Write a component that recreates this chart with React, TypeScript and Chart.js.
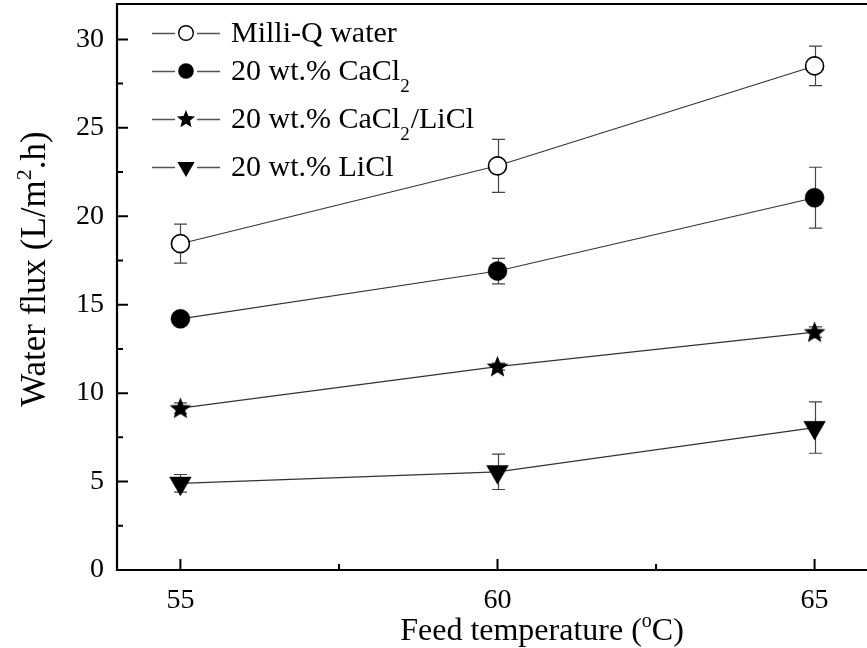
import React, { useEffect, useRef } from 'react';
import { Chart, registerables } from 'chart.js';

Chart.register(...registerables);

// ---- data ----
const temperatures = [55, 60, 65];
const milliQ = [18.45, 22.85, 28.5];
const milliQErr = [1.1, 1.5, 1.12];
const cacl2 = [14.2, 16.9, 21.05];
const cacl2Err = [0.3, 0.72, 1.72];
const mixed = [9.15, 11.5, 13.45];
const mixedErr = [0.3, 0.2, 0.3];
const licl = [4.9, 5.55, 8.05];
const liclErr = [0.5, 1.0, 1.45];

const xMajorTicks = [55, 60, 65];
const yMajorTicks = [0, 5, 10, 15, 20, 25, 30];

// legend labels as [text, kind] parts (kind: 'n' normal, 'sub' subscript)
const legendLabels: [string, string][][] = [
  [['Milli-Q water', 'n']],
  [['20 wt.% CaCl', 'n'], ['2', 'sub']],
  [['20 wt.% CaCl', 'n'], ['2', 'sub'], ['/LiCl', 'n']],
  [['20 wt.% LiCl', 'n']],
];
const markerKinds = ['openCircle', 'filledCircle', 'star', 'triangleDown'];

const FONT = '"Liberation Serif", "Times New Roman", serif';

function starPath(g: CanvasRenderingContext2D, cx: number, cy: number, R: number, r: number) {
  g.beginPath();
  for (let i = 0; i < 10; i++) {
    const a = -Math.PI / 2 + (i * Math.PI) / 5;
    const rad = i % 2 === 0 ? R : r;
    const px = cx + rad * Math.cos(a);
    const py = cy + rad * Math.sin(a);
    if (i === 0) g.moveTo(px, py);
    else g.lineTo(px, py);
  }
  g.closePath();
}

function makeStar(R: number, r: number) {
  const size = Math.ceil(R * 2 + 2);
  const c = document.createElement('canvas');
  c.width = size;
  c.height = size;
  const g = c.getContext('2d')!;
  starPath(g, size / 2, size / 2 + 0.8, R, r);
  g.fillStyle = '#000';
  g.fill();
  return c;
}

function drawLegendMarker(ctx: CanvasRenderingContext2D, kind: string, cx: number, cy: number) {
  ctx.save();
  ctx.lineWidth = 1.4;
  ctx.strokeStyle = '#000';
  ctx.fillStyle = '#000';
  if (kind === 'openCircle') {
    ctx.beginPath();
    ctx.arc(cx, cy, 7.3, 0, Math.PI * 2);
    ctx.fillStyle = '#fff';
    ctx.fill();
    ctx.stroke();
  } else if (kind === 'filledCircle') {
    ctx.beginPath();
    ctx.arc(cx, cy, 7.8, 0, Math.PI * 2);
    ctx.fill();
  } else if (kind === 'star') {
    starPath(ctx, cx, cy + 0.5, 9.5, 4.2);
    ctx.fill();
  } else {
    const r = 10;
    const s = Math.sin(Math.PI / 3) * r;
    ctx.beginPath();
    ctx.moveTo(cx, cy + r);
    ctx.lineTo(cx - s, cy - r / 2);
    ctx.lineTo(cx + s, cy - r / 2);
    ctx.closePath();
    ctx.fill();
  }
  ctx.restore();
}

const seriesValues = [milliQ, cacl2, mixed, licl];
const seriesErrors = [milliQErr, cacl2Err, mixedErr, liclErr];

const decorPlugin = {
  id: 'decor',
  beforeDatasetsDraw(chart: any) {
    const { ctx } = chart;
    const xs = chart.scales.x;
    const ys = chart.scales.y;
    ctx.save();
    ctx.strokeStyle = '#444';
    ctx.lineWidth = 1.2;
    const cap = 6.5;
    seriesValues.forEach((vals, si) => {
      vals.forEach((v, i) => {
        const e = seriesErrors[si][i];
        const px = Math.round(xs.getPixelForValue(temperatures[i])) + 0.5;
        const top = ys.getPixelForValue(v + e);
        const bot = ys.getPixelForValue(v - e);
        ctx.beginPath();
        ctx.moveTo(px, top);
        ctx.lineTo(px, bot);
        ctx.moveTo(px - cap, top);
        ctx.lineTo(px + cap, top);
        ctx.moveTo(px - cap, bot);
        ctx.lineTo(px + cap, bot);
        ctx.stroke();
      });
    });
    ctx.restore();
  },
  afterDraw(chart: any) {
    const { ctx, chartArea } = chart;
    const xs = chart.scales.x;
    const ys = chart.scales.y;
    const { left, right, top, bottom } = chartArea;
    ctx.save();
    // frame
    ctx.strokeStyle = '#000';
    ctx.lineWidth = 2.2;
    ctx.beginPath();
    ctx.moveTo(left, top);
    ctx.lineTo(right + 2, top);
    ctx.moveTo(left, top - 1);
    ctx.lineTo(left, bottom + 1);
    ctx.moveTo(left - 1, bottom);
    ctx.lineTo(right + 2, bottom);
    ctx.stroke();
    // inward ticks
    ctx.lineWidth = 2;
    ctx.beginPath();
    xs.ticks.forEach((t: any) => {
      const px = xs.getPixelForValue(t.value);
      const len = xMajorTicks.includes(t.value) ? 11 : 6;
      ctx.moveTo(px, bottom);
      ctx.lineTo(px, bottom - len);
    });
    ys.ticks.forEach((t: any) => {
      const py = ys.getPixelForValue(t.value);
      const len = yMajorTicks.includes(t.value) ? 11 : 6;
      ctx.moveTo(left, py);
      ctx.lineTo(left + len, py);
    });
    ctx.stroke();

    // x title
    ctx.fillStyle = '#000';
    ctx.textBaseline = 'alphabetic';
    ctx.textAlign = 'left';
    const big = `32px ${FONT}`;
    const sup = `20px ${FONT}`;
    const xParts: [string, string][] = [['Feed temperature (', big], ['o', sup], ['C)', big]];
    let w = 0;
    xParts.forEach(([t, f]) => { ctx.font = f; w += ctx.measureText(t).width; });
    let cx = 542 - w / 2;
    xParts.forEach(([t, f]) => {
      ctx.font = f;
      ctx.fillText(t, cx, f === sup ? 627 : 640);
      cx += ctx.measureText(t).width;
    });

    // y title (rotated)
    const ybig = `35px ${FONT}`;
    const ysup = `22px ${FONT}`;
    const yParts: [string, string][] = [['Water flux (L/m', ybig], ['2', ysup], ['.h)', ybig]];
    ctx.save();
    ctx.translate(45, 269);
    ctx.rotate(-Math.PI / 2);
    w = 0;
    yParts.forEach(([t, f]) => { ctx.font = f; w += ctx.measureText(t).width; });
    cx = -w / 2;
    yParts.forEach(([t, f]) => {
      ctx.font = f;
      ctx.fillText(t, cx, f === ysup ? -14 : 0);
      cx += ctx.measureText(t).width;
    });
    ctx.restore();

    // legend
    const rows = [33, 71, 119, 167];
    legendLabels.forEach((parts, i) => {
      const y = rows[i];
      ctx.strokeStyle = '#555';
      ctx.lineWidth = 1.3;
      ctx.beginPath();
      ctx.moveTo(152, y + 0.5);
      ctx.lineTo(175, y + 0.5);
      ctx.moveTo(197, y + 0.5);
      ctx.lineTo(220, y + 0.5);
      ctx.stroke();
      drawLegendMarker(ctx, markerKinds[i], 186, y);
      let tx = 231;
      parts.forEach(([t, k]) => {
        ctx.font = k === 'sub' ? `19px ${FONT}` : `30px ${FONT}`;
        ctx.fillStyle = '#000';
        ctx.fillText(t, tx, k === 'sub' ? y + 21 : y + 9);
        tx += ctx.measureText(t).width + (k === 'sub' ? 1 : 0);
      });
    });
    ctx.restore();
  },
};

export default function App() {
  const ref = useRef<HTMLCanvasElement>(null);
  useEffect(() => {
    const canvas = ref.current!;
    const star = makeStar(11.5, 5);
    const mk = (vals: number[]) => temperatures.map((t, i) => ({ x: t, y: vals[i] }));
    const base = {
      borderColor: '#333',
      borderWidth: 1.1,
      tension: 0,
      showLine: true,
      fill: false,
      pointBorderColor: '#000',
      pointHoverRadius: 0,
    };
    const chart = new Chart(canvas, {
      type: 'line',
      data: {
        datasets: [
          { ...base, label: 'Milli-Q water', data: mk(milliQ), pointStyle: 'circle', pointRadius: 9, pointBackgroundColor: '#fff', pointBorderWidth: 1.6 },
          { ...base, label: '20 wt.% CaCl2', data: mk(cacl2), pointStyle: 'circle', pointRadius: 9.5, pointBackgroundColor: '#000', pointBorderWidth: 0.5 },
          { ...base, label: '20 wt.% CaCl2/LiCl', data: mk(mixed), pointStyle: star as any, pointRadius: 11, pointBackgroundColor: '#000' },
          { ...base, label: '20 wt.% LiCl', data: mk(licl), pointStyle: 'triangle', pointRotation: 180, pointRadius: 12.5, pointBackgroundColor: '#000', pointBorderWidth: 0.5 },
        ] as any,
      },
      options: {
        animation: false,
        responsive: false,
        devicePixelRatio: 1,
        layout: { autoPadding: false, padding: { top: 4, right: 0, left: 0, bottom: 0 } },
        plugins: { legend: { display: false }, tooltip: { enabled: false } },
        events: [],
        scales: {
          x: {
            type: 'linear',
            position: 'bottom',
            min: 54,
            max: 66,
            ticks: {
              stepSize: 2.5,
              autoSkip: false,
              maxRotation: 0,
              minRotation: 0,
              padding: 14,
              color: '#000',
              font: { family: FONT, size: 28 },
              callback: (v: any) => (xMajorTicks.includes(Number(v)) ? String(v) : ''),
            },
            grid: { display: false, drawTicks: false },
            border: { display: false },
            afterBuildTicks: (s: any) => {
              s.ticks = s.ticks.filter((t: any) => Math.abs(t.value / 2.5 - Math.round(t.value / 2.5)) < 1e-6);
            },
            afterFit: (s: any) => {
              s.height = 78;
              s.paddingLeft = 0;
              s.paddingRight = 0;
            },
          },
          y: {
            type: 'linear',
            position: 'left',
            min: 0,
            max: 32,
            ticks: {
              stepSize: 2.5,
              autoSkip: false,
              padding: 13,
              color: '#000',
              font: { family: FONT, size: 28 },
              callback: (v: any) => (yMajorTicks.includes(Number(v)) ? String(v) : ''),
            },
            grid: { display: false, drawTicks: false },
            border: { display: false },
            afterBuildTicks: (s: any) => {
              s.ticks = s.ticks.filter((t: any) => Math.abs(t.value / 2.5 - Math.round(t.value / 2.5)) < 1e-6);
            },
            afterFit: (s: any) => {
              s.width = 117;
              s.paddingTop = 0;
              s.paddingBottom = 0;
            },
          },
        },
      } as any,
      plugins: [decorPlugin as any],
    });
    return () => chart.destroy();
  }, []);
  return (
    <div style={{ position: 'fixed', left: 0, top: 0, width: 867, height: 648, overflow: 'hidden', background: '#fff' }}>
      <canvas ref={ref} width={878} height={648} style={{ width: '878px', height: '648px', display: 'block' }} />
    </div>
  );
}
